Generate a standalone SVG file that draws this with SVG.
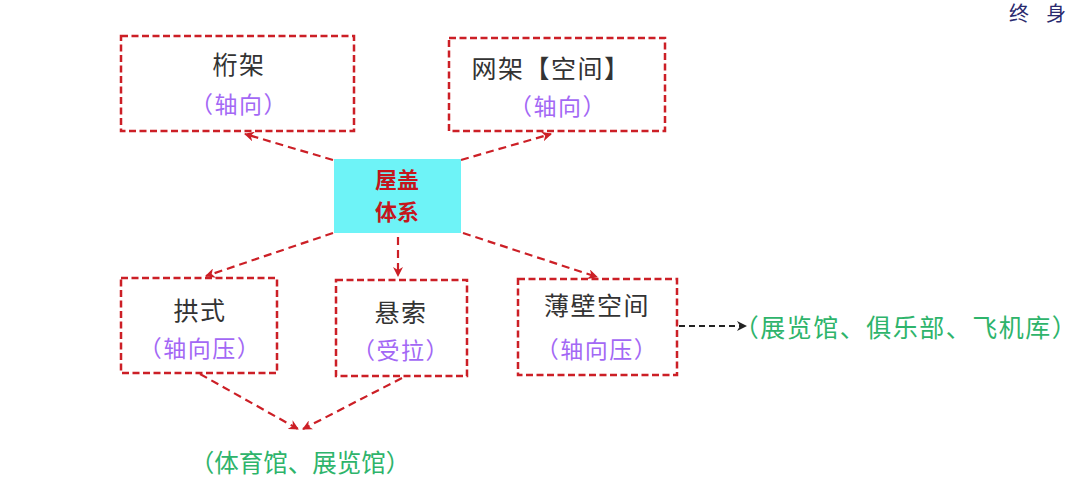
<svg xmlns="http://www.w3.org/2000/svg" width="1080" height="478" viewBox="0 0 1080 478">
<defs>
<style>
.box{fill:#fff;stroke:#cc1f26;stroke-width:2.5;stroke-dasharray:7 3.5}
.core{fill:#6ef3f7;stroke:none}
.t{font-family:"Noto Sans CJK SC","Noto Sans",sans-serif;text-anchor:middle;dominant-baseline:central}
.title{font-size:25px;fill:#333;letter-spacing:1.5px}
.sub{font-size:23px;fill:#a368f5;letter-spacing:1.5px}
.core-t{font-size:22px;fill:#c4161c;font-weight:bold}
.green{font-size:25px;fill:#2eb46b}
.edge{fill:none;stroke:#cc1f26;stroke-width:2.2;stroke-dasharray:8 5}
.edge-k{fill:none;stroke:#222;stroke-width:2;stroke-dasharray:6 4}
</style>
<marker id="ar" viewBox="0 0 10 10" refX="9" refY="5" markerWidth="10" markerHeight="10" markerUnits="userSpaceOnUse" orient="auto">
<path d="M0,0 L10,5 L0,10 L3,5 z" fill="#cc1f26"/>
</marker>
<marker id="ak" viewBox="0 0 10 10" refX="9" refY="5" markerWidth="10" markerHeight="10" markerUnits="userSpaceOnUse" orient="auto">
<path d="M0,0 L10,5 L0,10 L3,5 z" fill="#222"/>
</marker>
</defs>
<rect width="1080" height="478" fill="#fff"/>
<text y="21" style="font-family:'Noto Sans CJK SC',sans-serif;font-size:20px;fill:#2a2a6e;text-anchor:middle"><tspan x="1019">终</tspan><tspan x="1056">身</tspan></text>
<g id="connectors">
<path class="edge" d="M333,160 L245,134" marker-end="url(#ar)"/>
<path class="edge" d="M461,160 L551,134" marker-end="url(#ar)"/>
<path class="edge" d="M333,233 L206,276" marker-end="url(#ar)"/>
<path class="edge" d="M398,237 L398,276" marker-end="url(#ar)"/>
<path class="edge" d="M463,233 L597,277" marker-end="url(#ar)"/>
<path class="edge" d="M200,374 L298,429" marker-end="url(#ar)"/>
<path class="edge" d="M402,378 L303,429" marker-end="url(#ar)"/>
<path class="edge-k" d="M679,326 L746,326" marker-end="url(#ak)"/>
</g>
<g id="truss">
<rect class="box" x="121" y="36" width="233" height="95"/>
<text class="t title" x="239" y="63">桁架</text>
<text class="t sub" x="239" y="103">（轴向）</text>
</g>
<g id="grid">
<rect class="box" x="449" y="38" width="216" height="93"/>
<text class="t title" x="551" y="67">网架【空间】</text>
<text class="t sub" x="558" y="105">（轴向）</text>
</g>
<g id="roof">
<rect class="core" x="334" y="159" width="127" height="74"/>
<text class="t core-t" x="397" y="178">屋盖</text>
<text class="t core-t" x="397" y="210">体系</text>
</g>
<g id="arch">
<rect class="box" x="121" y="278" width="156" height="95"/>
<text class="t title" x="200" y="309">拱式</text>
<text class="t sub" x="200" y="347">（轴向压）</text>
</g>
<g id="cable">
<rect class="box" x="336" y="280" width="131" height="96"/>
<text class="t title" x="401" y="311">悬索</text>
<text class="t sub" x="401" y="349">（受拉）</text>
</g>
<g id="shell">
<rect class="box" x="518" y="279" width="159" height="96"/>
<text class="t title" x="597" y="304">薄壁空间</text>
<text class="t sub" x="597" y="348">（轴向压）</text>
</g>
<g id="use-shell">
<text class="t green" x="906" y="326" style="letter-spacing:1.5px">（展览馆、俱乐部、飞机库）</text>
</g>
<g id="use-arch">
<text class="t green" x="300" y="461" style="font-size:24.5px">（体育馆、展览馆）</text>
</g>
</svg>
